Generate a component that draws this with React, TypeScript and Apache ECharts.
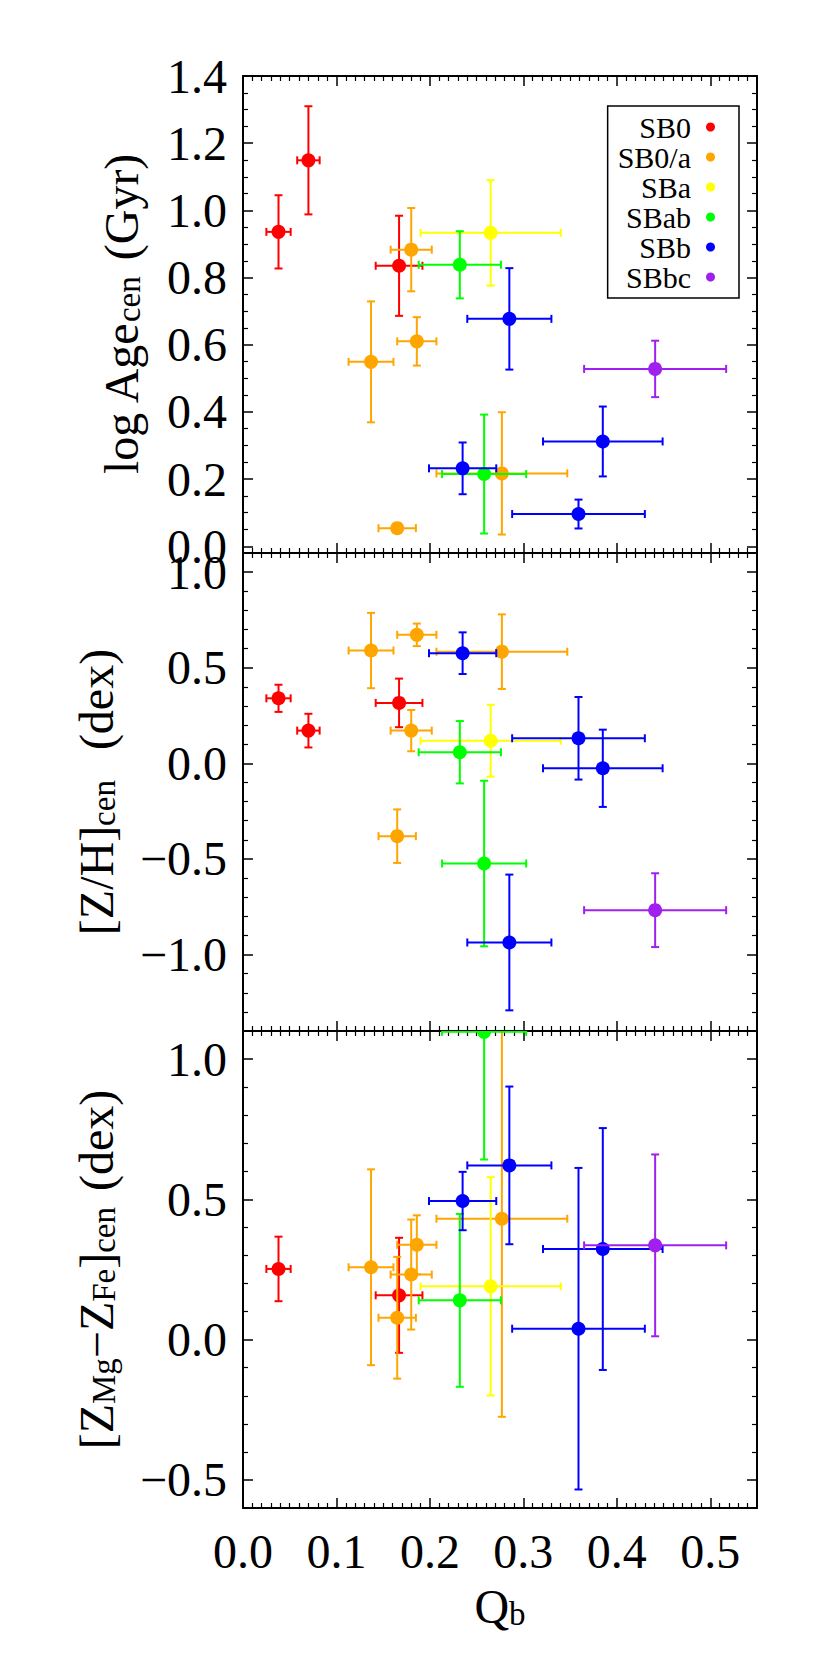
import { useEffect, useRef } from "react";
import * as echarts from "echarts";

const types = ["SB0", "SB0/a", "SBa", "SBab", "SBb", "SBbc"];
const typeColors = ["#ff0000", "#ffa500", "#ffff00", "#00ff00", "#0000ff", "#a020f0"];

// one entry per galaxy
const galaxyType = [0, 0, 0, 1, 1, 1, 1, 1, 2, 3, 3, 4, 4, 4, 4, 5];
const qb = [0.038, 0.07, 0.167, 0.137, 0.165, 0.18, 0.186, 0.277, 0.265, 0.232, 0.258, 0.235, 0.285, 0.359, 0.385, 0.441];
const qbErr = [0.013, 0.012, 0.025, 0.024, 0.02, 0.022, 0.021, 0.07, 0.075, 0.044, 0.045, 0.036, 0.045, 0.071, 0.064, 0.076];
const logAge = [0.936, 1.149, 0.835, 0.549, 0.054, 0.883, 0.61, 0.217, 0.933, 0.838, 0.215, 0.232, 0.677, 0.096, 0.312, 0.528];
const logAgeErr = [0.109, 0.161, 0.149, 0.18, 0.01, 0.124, 0.072, 0.182, 0.157, 0.1, 0.177, 0.077, 0.151, 0.043, 0.104, 0.084];
const zh = [0.34, 0.171, 0.316, 0.59, -0.381, 0.171, 0.672, 0.584, 0.118, 0.058, -0.524, 0.576, -0.937, 0.131, -0.026, -0.768];
const zhErr = [0.071, 0.088, 0.127, 0.197, 0.14, 0.108, 0.059, 0.195, 0.188, 0.163, 0.433, 0.109, 0.355, 0.216, 0.202, 0.193];
const mgFe = [0.252, null, 0.158, 0.258, 0.078, 0.232, 0.338, 0.431, 0.19, 0.14, 1.097, 0.494, 0.621, 0.039, 0.323, 0.336];
const mgFeErr = [0.115, null, 0.205, 0.349, 0.217, 0.196, 0.105, 0.706, 0.389, 0.308, 0.455, 0.104, 0.281, 0.573, 0.431, 0.324];

const panelValues = [logAge, zh, mgFe];
const panelErrors = [logAgeErr, zhErr, mgFeErr];
const panelMin = [-0.02, -1.4, -0.6];
const panelMax = [1.4, 1.1, 1.1];
const panelStep = [0.2, 0.5, 0.5];
const panelSplit = [7, 5, 4];
const panelMinorSplit = [4, 5, 5];
const panelTitles = [
  "{m|log Age}{s|cen}{d|(Gyr)}",
  "{m|[Z/H]}{s|cen}{w|(dex)}",
  "{m|[Z}{s|Mg}{m|\u2212Z}{s|Fe}{m|]}{s|cen}{d|(dex)}",
];
const panelNameGap = [98, 123, 123];

const serif = "Liberation Serif, serif";
const gridTop = [76, 553, 1031];
const gridHeight = [477, 478, 477];

const tickFormatter = (step: number) => (v: number) => {
  const k = Math.round(v / step);
  if (Math.abs(v - k * step) > 1e-6) return "";
  const s = Math.abs(v).toFixed(1);
  return v < -1e-9 ? "\u2212" + s : s;
};

const titleRich = {
  m: { fontFamily: serif, fontSize: 48, lineHeight: 60, color: "#000", verticalAlign: "bottom" },
  s: { fontFamily: serif, fontSize: 33, lineHeight: 28, color: "#000", verticalAlign: "bottom" },
  d: { fontFamily: serif, fontSize: 48, lineHeight: 60, color: "#000", verticalAlign: "bottom", padding: [0, 0, 0, 16] },
  w: { fontFamily: serif, fontSize: 48, lineHeight: 60, color: "#000", verticalAlign: "bottom", padding: [0, 0, 0, 30] },
};

function axisCommon(minorSplit: number) {
  return {
    axisLine: { show: true, onZero: false, lineStyle: { color: "#000", width: 2 } },
    axisTick: { show: true, inside: true, length: 10, lineStyle: { color: "#000", width: 1.5 } },
    minorTick: { show: true, splitNumber: minorSplit, length: 5, lineStyle: { color: "#000", width: 1.2 } },
    splitLine: { show: false },
    minorSplitLine: { show: false },
  };
}

function errorBarItem(color: string) {
  return (params: any, api: any) => {
    const x = api.value(0);
    const y = api.value(1);
    const xe = api.value(2);
    const ye = api.value(3);
    const c = api.coord([x, y]);
    const l = api.coord([x - xe, y]);
    const r = api.coord([x + xe, y]);
    const t = api.coord([x, y + ye]);
    const b = api.coord([x, y - ye]);
    const cap = 4;
    const style = { stroke: color, lineWidth: 2 };
    const line = (x1: number, y1: number, x2: number, y2: number) => ({
      type: "line",
      shape: { x1, y1, x2, y2 },
      style,
    });
    return {
      type: "group",
      children: [
        line(l[0], c[1], r[0], c[1]),
        line(l[0], c[1] - cap, l[0], c[1] + cap),
        line(r[0], c[1] - cap, r[0], c[1] + cap),
        line(c[0], t[1], c[0], b[1]),
        line(c[0] - cap, t[1], c[0] + cap, t[1]),
        line(c[0] - cap, b[1], c[0] + cap, b[1]),
        { type: "circle", shape: { cx: c[0], cy: c[1], r: 7 }, style: { fill: color } },
      ],
    };
  };
}

export default function App() {
  const chartRef = useRef<HTMLDivElement>(null);

  useEffect(() => {
    if (!chartRef.current) return;
    const chart = echarts.init(chartRef.current, undefined, { renderer: "svg" });

    const grid: any[] = [];
    const xAxis: any[] = [];
    const yAxis: any[] = [];
    const series: any[] = [];

    for (let p = 0; p < 3; p++) {
      const last = p === 2;
      grid.push({ left: 243, width: 514, top: gridTop[p], height: gridHeight[p], outerBoundsMode: "none" });

      xAxis.push({
        type: "value",
        gridIndex: p,
        position: "bottom",
        min: 0,
        max: 0.55,
        interval: 0.1,
        ...axisCommon(10),
        axisLabel: {
          show: last,
          formatter: tickFormatter(0.1),
          fontFamily: serif,
          fontSize: 48,
          color: "#000",
          margin: 19,
        },
        name: last ? "{m|Q}{s|b}" : "",
        nameLocation: "middle",
        nameGap: 62,
        nameMoveOverlap: false,
        nameTextStyle: { rich: titleRich },
      });
      xAxis.push({
        type: "value",
        gridIndex: p,
        position: "top",
        min: 0,
        max: 0.55,
        interval: 0.1,
        ...axisCommon(10),
        axisLabel: { show: false },
      });

      yAxis.push({
        type: "value",
        gridIndex: p,
        position: "left",
        min: panelMin[p],
        max: panelMax[p],
        splitNumber: panelSplit[p],
        ...axisCommon(panelMinorSplit[p]),
        axisLabel: {
          show: true,
          formatter: tickFormatter(panelStep[p]),
          fontFamily: serif,
          fontSize: 48,
          color: "#000",
          margin: 16,
        },
        name: panelTitles[p],
        nameLocation: "middle",
        nameGap: panelNameGap[p],
        nameMoveOverlap: false,
        nameTextStyle: { rich: titleRich },
      });
      yAxis.push({
        type: "value",
        gridIndex: p,
        position: "right",
        min: panelMin[p],
        max: panelMax[p],
        splitNumber: panelSplit[p],
        ...axisCommon(panelMinorSplit[p]),
        axisLabel: { show: false },
      });

      types.forEach((name, t) => {
        const data: number[][] = [];
        galaxyType.forEach((gt, i) => {
          const v = panelValues[p][i];
          const e = panelErrors[p][i];
          if (gt !== t || v == null || e == null) return;
          data.push([qb[i], v, qbErr[i], e]);
        });
        series.push({
          type: "custom",
          name,
          xAxisIndex: p * 2,
          yAxisIndex: p * 2,
          clip: true,
          itemStyle: { color: typeColors[t] },
          encode: { x: 0, y: 1 },
          data,
          renderItem: errorBarItem(typeColors[t]),
        });
      });
    }

    chart.setOption({
      animation: false,
      backgroundColor: "#fff",
      grid,
      xAxis,
      yAxis,
      series,
      legend: {
        data: types.map((name) => ({ name, icon: "circle" })),
        orient: "vertical",
        align: "right",
        right: 91,
        top: 106,
        itemWidth: 9,
        itemHeight: 9,
        itemGap: 0,
        padding: [6, 24, 6, 10],
        borderColor: "#000",
        borderWidth: 1.5,
        backgroundColor: "#fff",
        selectedMode: false,
        textStyle: {
          fontFamily: serif,
          fontSize: 30,
          color: "#000",
          lineHeight: 30,
          padding: [0, 10, 0, 0],
        },
      },
    });

    return () => {
      chart.dispose();
    };
  }, []);

  return (
    <div
      ref={chartRef}
      style={{ position: "absolute", left: 0, top: 0, width: 830, height: 1662, background: "#fff" }}
    />
  );
}
